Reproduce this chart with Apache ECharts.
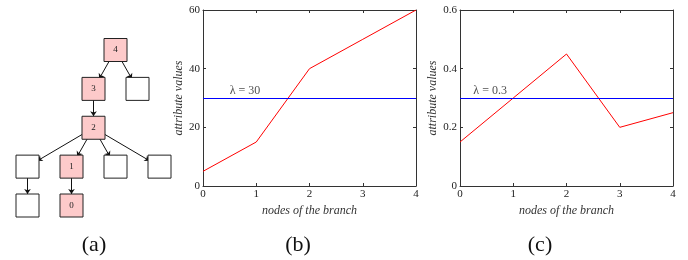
<!DOCTYPE html>
<html>
  <head>
    <meta charset="utf-8" />
    <title>Branch attribute values</title>
    <script src="https://cdnjs.cloudflare.com/ajax/libs/echarts/6.0.0/echarts.min.js"></script>
  </head>
  <body>
    <style>
      html,
      body {
        width: 100%;
        height: 100%;
        margin: 0;
        padding: 0;
        background: #fff;
      }
      #main {
        width: 688px;
        height: 260px;
      }
    </style>
    <div id="main"></div>
    <script type="text/javascript">

      // tree of panel (a): column / depth of each box, label ('' = empty box), on branch or not
      var treeNames = ['4', '3', 's1', '2', 'a', '1', 'b', 'c', 'd', '0'];
      var treeCols = [2, 1.5, 2.5, 1.5, 0, 1, 2, 3, 0, 1];
      var treeRows = [0, 1, 1, 2, 3, 3, 3, 3, 4, 4];
      var treeOnBranch = [true, true, false, true, false, true, false, false, false, true];
      var treeLinks = [[0, 1], [0, 2], [1, 3], [3, 4], [3, 5], [3, 6], [3, 7], [4, 8], [5, 9]];

      // panels (b) and (c)
      var branchNodes = [0, 1, 2, 3, 4];
      var valuesB = [5, 15, 40, 50, 60];
      var valuesC = [0.15, 0.3, 0.45, 0.2, 0.25];
      var lambdaB = 30;
      var lambdaC = 0.3;
      var lambdaLabelXB = 0.5;
      var lambdaLabelXC = 0.25;
      var yTicksB = [0, 20, 40, 60];
      var yTicksC = [0, 0.2, 0.4, 0.6];

      var serif = '"Liberation Serif", "DejaVu Serif", serif';
      var frameColor = '#333';

      var chartDom = document.getElementById('main');
      var myChart = echarts.init(chartDom);

      function pairs(xs, ys) {
        return xs.map(function (x, i) { return [x, ys[i]]; });
      }

      function frameAxes(gridIndex, isX, min, max, interval, name, nameGap) {
        var common = {
          gridIndex: gridIndex,
          type: 'value',
          min: min,
          max: max,
          interval: interval,
          splitLine: { show: false },
          axisLine: { show: true, onZero: false, lineStyle: { color: frameColor, width: 1 } },
          axisTick: { show: true, inside: true, length: 3, lineStyle: { color: frameColor } }
        };
        var main = Object.assign({}, common, {
          position: isX ? 'bottom' : 'left',
          name: name,
          nameLocation: 'middle',
          nameGap: nameGap,
          nameTextStyle: { fontFamily: serif, fontStyle: 'italic', fontSize: 12, color: '#333' },
          axisLabel: {
            fontFamily: serif, fontSize: 11, color: '#222', margin: 3,
            formatter: function (v) { return String(v); }
          }
        });
        var other = Object.assign({}, common, {
          position: isX ? 'top' : 'right',
          axisLabel: { show: false }
        });
        return [main, other];
      }

      var xB = frameAxes(1, true, 0, 4, 1, 'nodes of the branch', 17);
      var yB = frameAxes(1, false, yTicksB[0], yTicksB[yTicksB.length - 1], yTicksB[1] - yTicksB[0], 'attribute values', 18);
      var xC = frameAxes(2, true, 0, 4, 1, 'nodes of the branch', 17);
      var yC = frameAxes(2, false, yTicksC[0], yTicksC[yTicksC.length - 1], yTicksC[1] - yTicksC[0], 'attribute values', 21);

      function lambdaSeries(xIdx, yIdx, values, lambda, labelX) {
        return [
          {
            type: 'line',
            xAxisIndex: xIdx,
            yAxisIndex: yIdx,
            data: pairs(branchNodes, values),
            symbol: 'none',
            lineStyle: { color: '#ff0000', width: 1 },
            markLine: {
              silent: true,
              symbol: 'none',
              label: { show: false },
              lineStyle: { color: '#0000ff', width: 1.2, type: 'solid' },
              data: [{ yAxis: lambda }]
            },
            z: 3
          },
          {
            type: 'scatter',
            xAxisIndex: xIdx,
            yAxisIndex: yIdx,
            data: [[labelX, lambda]],
            symbolSize: 0,
            label: {
              show: true,
              position: 'insideBottomLeft',
              offset: [-5, 4],
              formatter: 'λ = ' + lambda,
              fontFamily: serif,
              fontSize: 12,
              color: '#222'
            }
          }
        ];
      }

      var treeData = treeNames.map(function (n, i) {
        return {
          name: n,
          value: [treeCols[i], treeRows[i]],
          itemStyle: { color: treeOnBranch[i] ? '#fdcaca' : '#ffffff' },
          label: { show: treeOnBranch[i] }
        };
      });

      var option = {
        animation: false,
        grid: [
          { left: 27.5, right: 528.5, top: 50, bottom: 54.5 },
          { left: 203, right: 272, top: 10, bottom: 74 },
          { left: 460, right: 15, top: 10, bottom: 74 }
        ],
        xAxis: [
          { gridIndex: 0, type: 'value', min: 0, max: 3, show: false }
        ].concat(xB, xC),
        yAxis: [
          { gridIndex: 0, type: 'value', min: 0, max: 4, inverse: true, show: false }
        ].concat(yB, yC),
        title: [
          { text: '(a)', left: 89, top: 229, textAlign: 'center' },
          { text: '(b)', left: 293, top: 229, textAlign: 'center' },
          { text: '(c)', left: 535, top: 229, textAlign: 'center' }
        ].map(function (t) {
          t.textStyle = { fontFamily: serif, fontSize: 22, fontWeight: 'normal', color: '#111' };
          return t;
        }),
        series: [
          {
            type: 'graph',
            coordinateSystem: 'cartesian2d',
            xAxisIndex: 0,
            yAxisIndex: 0,
            symbol: 'rect',
            symbolSize: 23,
            itemStyle: { borderColor: '#222', borderWidth: 1 },
            label: { show: true, fontFamily: serif, fontSize: 9, color: '#222' },
            edgeSymbol: ['none', 'arrow'],
            edgeSymbolSize: [0, 5],
            lineStyle: { color: '#111', width: 1, opacity: 1 },
            data: treeData,
            links: treeLinks.map(function (l) { return { source: l[0], target: l[1] }; })
          }
        ].concat(
          lambdaSeries(1, 1, valuesB, lambdaB, lambdaLabelXB),
          lambdaSeries(3, 3, valuesC, lambdaC, lambdaLabelXC)
        )
      };

      myChart.setOption(option);
    </script>
  </body>
</html>
